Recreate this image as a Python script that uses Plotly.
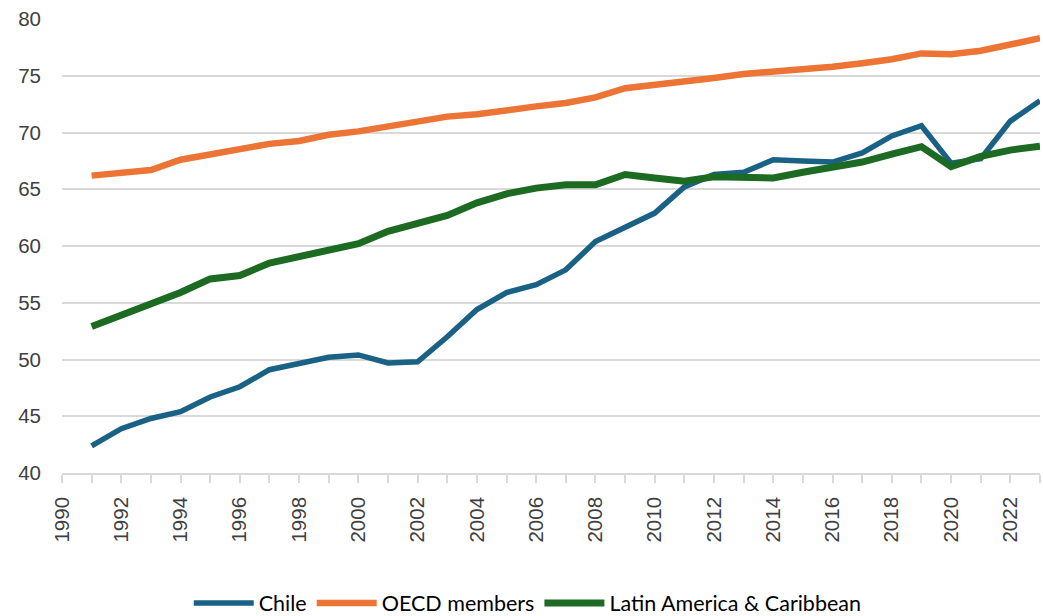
import plotly.graph_objects as go

years = list(range(1991, 2024))

chile = [42.4, 43.9, 44.8, 45.4, 46.7, 47.6, 49.1, 49.6, 50.2, 50.4,
         49.7, 49.8, 52.0, 54.4, 55.9, 56.6, 57.9, 60.4, 61.6, 62.9,
         65.2, 66.3, 66.5, 67.6, 67.5, 67.4, 68.2, 69.7, 70.6, 67.3,
         67.7, 71.0, 72.8]

oecd = [66.2, 66.5, 66.7, 67.6, 68.1, 68.5, 69.0, 69.25, 69.8, 70.1,
        70.5, 70.95, 71.4, 71.6, 72.0, 72.3, 72.6, 73.1, 73.9, 74.2,
        74.4, 74.8, 75.15, 75.35, 75.5, 75.8, 76.1, 76.45, 76.97, 76.9,
        77.2, 77.8, 78.3]

latam = [52.9, 53.9, 54.9, 55.9, 57.1, 57.4, 58.5, 59.1, 59.7, 60.2,
         61.3, 62.05, 62.7, 63.8, 64.6, 65.1, 65.4, 65.4, 66.3, 66.0,
         65.7, 66.1, 66.1, 66.0, 66.5, 67.0, 67.4, 68.1, 68.75, 67.0,
         67.9, 68.45, 68.8]

series = [
    ("Chile", chile, "#1a6186", 5.5),
    ("OECD members", oecd, "#ec7434", 6.5),
    ("Latin America & Caribbean", latam, "#1d6b22", 7),
]

fig = go.Figure()
for name, vals, color, w in series:
    fig.add_trace(go.Scatter(x=years, y=vals, mode="lines", name=name,
                             line=dict(color=color, width=w)))

tick_font = dict(family="Liberation Sans, Arial, sans-serif", size=20.5, color="#404040")

fig.update_layout(
    width=1043, height=616,
    margin=dict(l=62, r=3, t=19, b=143, autoexpand=False),
    plot_bgcolor="white", paper_bgcolor="white",
    showlegend=True,
    legend=dict(orientation="h", x=0.506, xanchor="center", xref="container",
                y=0.021, yanchor="middle", yref="container",
                font=dict(family="Lato, sans-serif", size=21.5, color="#000000"),
                itemwidth=60, traceorder="normal"),
    xaxis=dict(range=[1990, 2023], tickmode="linear", tick0=1990, dtick=2,
               tickangle=-90, tickfont=tick_font, showgrid=False, automargin=False,
               showline=True, linecolor="#d9d9d9", linewidth=1.5,
               ticks="outside", ticklen=8, tickcolor="#d9d9d9", tickwidth=1.5,
               ticklabelstandoff=6,
               minor=dict(dtick=1, tick0=1990, ticks="outside", ticklen=8,
                          tickcolor="#d9d9d9", tickwidth=1.5, showgrid=False),
               zeroline=False),
    yaxis=dict(range=[40, 80], tickmode="linear", tick0=40, dtick=5, automargin=False,
               tickfont=tick_font, showgrid=True, gridcolor="#d9d9d9", gridwidth=1.5,
               zeroline=False, showline=False, ticks="", ticklabelstandoff=20),
)

fig.write_html("out.html", config={"displayModeBar": False},
               post_script="document.body.style.margin='0';document.body.style.overflow='hidden';")
